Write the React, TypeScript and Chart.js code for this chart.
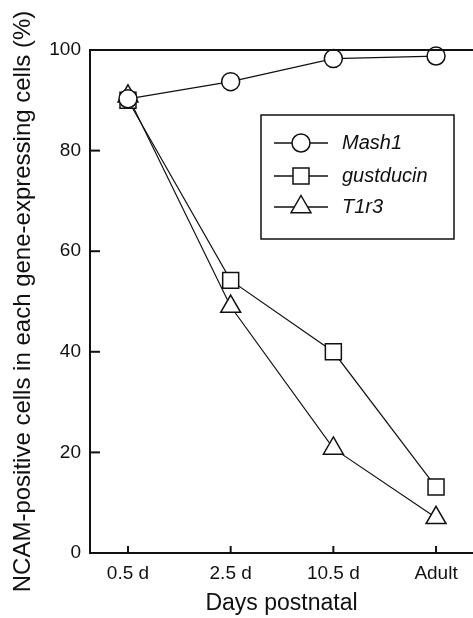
import React, { useEffect, useRef } from "react";
import { Chart, registerables } from "chart.js";

Chart.register(...registerables);

const categories = ["0.5 d", "2.5 d", "10.5 d", "Adult"];
const mash1 = [90.3, 93.7, 98.3, 98.8];
const gustducin = [90, 54.2, 40, 13.1];
const t1r3 = [90.8, 49, 20.8, 7];
const yTicks = [0, 20, 40, 60, 80, 100];
const seriesNames = ["Mash1", "gustducin", "T1r3"];
const seriesStyles = ["circle", "rect", "triangle"];

const FONT = "'Liberation Sans', Arial, Helvetica, sans-serif";

const toPoints = (vals: number[]) => vals.map((v, i) => ({ x: i, y: v }));

function drawMarker(ctx: CanvasRenderingContext2D, style: string, x: number, y: number) {
  ctx.beginPath();
  if (style === "circle") {
    ctx.arc(x, y, 9, 0, Math.PI * 2);
  } else if (style === "rect") {
    ctx.rect(x - 8, y - 8, 16, 16);
  } else {
    const r = 11.5;
    const h = r * 1.5;
    ctx.moveTo(x, y - r);
    ctx.lineTo(x + r * 0.866, y - r + h);
    ctx.lineTo(x - r * 0.866, y - r + h);
    ctx.closePath();
  }
  ctx.fillStyle = "#fff";
  ctx.fill();
  ctx.lineWidth = 1.5;
  ctx.strokeStyle = "#111";
  ctx.stroke();
}

const framePlugin = {
  id: "framePlugin",
  afterDraw(chart: any) {
    const { ctx, chartArea, scales } = chart;
    const { left, right, top, bottom } = chartArea;
    ctx.save();
    ctx.strokeStyle = "#111";
    ctx.lineWidth = 2;
    // top line
    ctx.beginPath();
    ctx.moveTo(left - 1, top);
    ctx.lineTo(right, top);
    ctx.stroke();
    // inward ticks
    const tl = 10;
    scales.y.ticks.forEach((t: any) => {
      const py = scales.y.getPixelForValue(t.value);
      ctx.beginPath();
      ctx.moveTo(left, py);
      ctx.lineTo(left + tl, py);
      ctx.stroke();
    });
    scales.x.ticks.forEach((t: any) => {
      const px = scales.x.getPixelForValue(t.value);
      ctx.beginPath();
      ctx.moveTo(px, bottom);
      ctx.lineTo(px, bottom - 7);
      ctx.stroke();
    });
    // legend
    const bx = left + 171;
    const by = top + 65;
    const bw = 193;
    const bh = 124;
    ctx.lineWidth = 1.5;
    ctx.strokeRect(bx, by, bw, bh);
    const rows = [28, 61, 92];
    seriesNames.forEach((name, i) => {
      const ry = by + rows[i];
      ctx.lineWidth = 1.3;
      ctx.beginPath();
      ctx.moveTo(bx + 13, ry);
      ctx.lineTo(bx + 67, ry);
      ctx.stroke();
      drawMarker(ctx, seriesStyles[i], bx + 40, ry);
      ctx.fillStyle = "#111";
      ctx.font = `italic 20px ${FONT}`;
      ctx.textBaseline = "middle";
      ctx.textAlign = "left";
      ctx.fillText(name, bx + 81, ry);
    });
    ctx.restore();
  },
};

export default function App() {
  const ref = useRef<HTMLCanvasElement>(null);
  useEffect(() => {
    document.body.style.margin = "0";
    const common = {
      borderColor: "#111",
      borderWidth: 1.2,
      pointBackgroundColor: "#fff",
      pointBorderColor: "#111",
      pointBorderWidth: 1.5,
      clip: false as any,
      showLine: true,
    };
    const chart = new Chart(ref.current!, {
      type: "scatter",
      data: {
        datasets: [
          { ...common, label: seriesNames[0], data: toPoints(mash1), pointStyle: "circle", pointRadius: 9 },
          { ...common, label: seriesNames[1], data: toPoints(gustducin), pointStyle: "rect", pointRadius: 11.3 },
          { ...common, label: seriesNames[2], data: toPoints(t1r3), pointStyle: "triangle", pointRadius: 11.5 },
        ],
      },
      options: {
        animation: false,
        responsive: false,
        devicePixelRatio: 1,
        layout: { autoPadding: false, padding: { top: 50, left: 0, right: 0, bottom: 0 } },
        plugins: { legend: { display: false }, tooltip: { enabled: false } },
        scales: {
          x: {
            type: "linear",
            min: -0.37,
            max: 3.36,
            afterBuildTicks: (s: any) => {
              s.ticks = categories.map((_, i) => ({ value: i }));
            },
            afterFit: (s: any) => {
              s.height = 65;
              s.paddingLeft = 0;
              s.paddingRight = 0;
            },
            ticks: {
              callback: (v: any) => categories[v as number] ?? "",
              color: "#111",
              font: { family: FONT, size: 19 },
              padding: 9,
              maxRotation: 0,
            },
            grid: { display: false, drawTicks: false },
            border: { display: true, color: "#111", width: 2 },
            title: {
              display: true,
              text: "Days postnatal",
              color: "#111",
              font: { family: FONT, size: 23 },
              padding: { top: 0, bottom: 1 },
            },
          },
          y: {
            min: 0,
            max: 100,
            afterBuildTicks: (s: any) => {
              s.ticks = yTicks.map((v) => ({ value: v }));
            },
            afterFit: (s: any) => {
              s.width = 90;
              s.paddingTop = 0;
              s.paddingBottom = 0;
            },
            ticks: {
              color: "#111",
              font: { family: FONT, size: 19 },
              padding: 9,
            },
            grid: { display: false, drawTicks: false },
            border: { display: true, color: "#111", width: 2 },
            title: {
              display: true,
              text: "NCAM-positive cells in each gene-expressing cells (%)",
              color: "#111",
              font: { family: FONT, size: 24 },
              padding: { top: 9, bottom: 0 },
            },
          },
        },
      },
      plugins: [framePlugin],
    });
    return () => chart.destroy();
  }, []);
  return (
    <div style={{ position: "fixed", left: 0, top: 0, width: 473, height: 618, background: "#fff" }}>
      <canvas ref={ref} width={473} height={618} />
    </div>
  );
}
